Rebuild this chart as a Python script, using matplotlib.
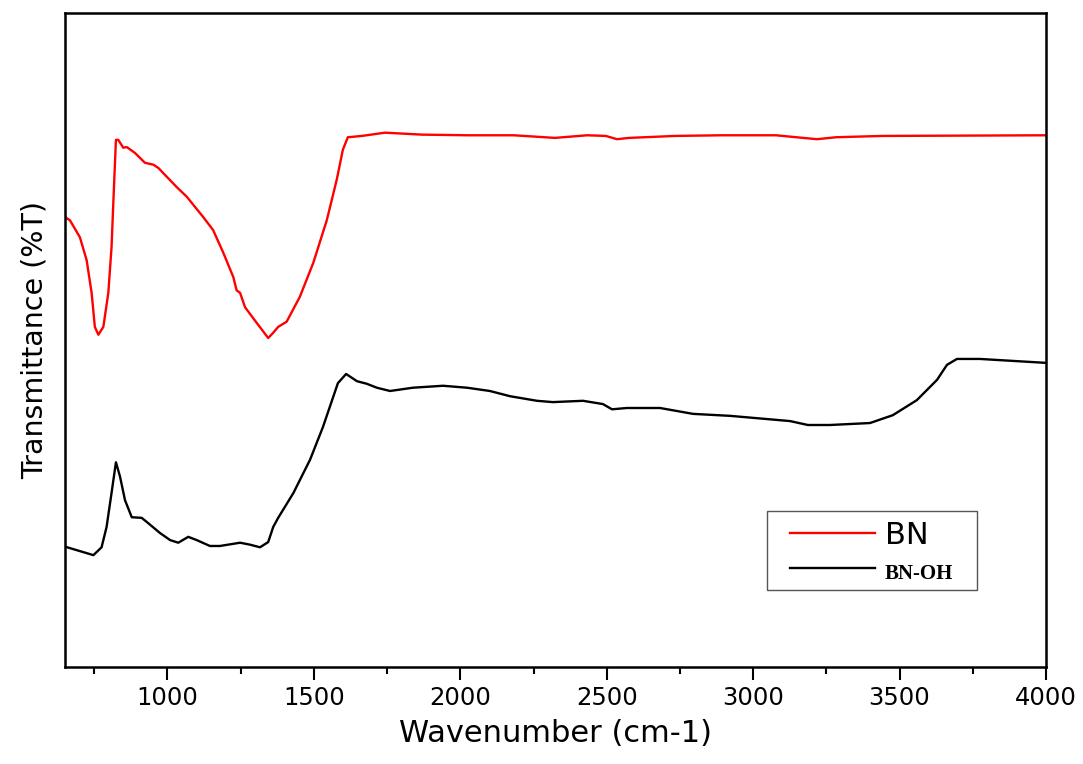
import matplotlib
matplotlib.use("Agg")
import matplotlib.pyplot as plt
from matplotlib.patches import Rectangle

# BN spectrum (wavenumber cm-1, transmittance arbitrary %)
bn_wn = [650, 667, 701, 724, 741, 752, 764, 781, 798, 809, 815, 824, 832, 849, 861,
         889, 923, 952, 969, 1031, 1066, 1122, 1156, 1191, 1225, 1236, 1248, 1265,
         1305, 1344, 1361, 1378, 1407, 1452, 1498, 1544, 1578, 1599, 1616, 1664,
         1743, 1869, 2026, 2183, 2323, 2433, 2497, 2535, 2576, 2733, 2890, 3078,
         3218, 3283, 3440, 4000]
bn_t = [68.8, 68.3, 65.7, 62.2, 57.2, 52.0, 50.8, 52.0, 57.2, 64.2, 70.9, 80.6, 80.6,
        79.4, 79.5, 78.6, 77.1, 76.8, 76.3, 73.4, 71.9, 68.8, 66.8, 63.3, 59.6, 57.6,
        57.2, 55.0, 52.6, 50.3, 51.1, 52.0, 52.8, 56.6, 61.8, 68.3, 74.5, 79.1, 81.0,
        81.2, 81.7, 81.4, 81.3, 81.3, 80.9, 81.3, 81.2, 80.7, 80.9, 81.2, 81.3, 81.3,
        80.7, 81.0, 81.2, 81.3]

# BN-OH spectrum
bnoh_wn = [650, 747, 775, 792, 809, 824, 838, 855, 878, 912, 934, 974, 1009, 1037,
           1071, 1100, 1145, 1179, 1248, 1282, 1316, 1344, 1361, 1378, 1430, 1487,
           1531, 1582, 1610, 1647, 1681, 1715, 1760, 1838, 1941, 2023, 2101, 2170,
           2262, 2316, 2419, 2487, 2518, 2569, 2682, 2795, 2921, 3126, 3187, 3262,
           3399, 3477, 3559, 3628, 3662, 3696, 3774, 4000]
bnoh_t = [18.4, 17.1, 18.3, 21.4, 26.6, 31.3, 29.1, 25.5, 22.9, 22.8, 22.0, 20.5,
          19.4, 19.0, 19.9, 19.4, 18.5, 18.5, 19.0, 18.7, 18.3, 19.1, 21.4, 22.8,
          26.6, 31.7, 36.7, 43.4, 44.8, 43.7, 43.3, 42.7, 42.2, 42.7, 43.0, 42.7,
          42.2, 41.4, 40.7, 40.5, 40.7, 40.2, 39.4, 39.6, 39.6, 38.7, 38.4, 37.6,
          37.0, 37.0, 37.3, 38.5, 40.8, 43.9, 46.2, 47.1, 47.1, 46.5]

labels = ["BN", "BN-OH"]
x_ticks = [1000, 1500, 2000, 2500, 3000, 3500, 4000]

fig = plt.figure(figsize=(10.83, 7.64), dpi=100)
ax = fig.add_axes([0.060, 0.127, 0.9058, 0.856])

l1, = ax.plot(bn_wn, bn_t, color="#ff0000", lw=1.7, label=labels[0])
l2, = ax.plot(bnoh_wn, bnoh_t, color="black", lw=1.7, label=labels[1])

ax.set_xlim(650, 4000)
ax.set_ylim(0, 100)
ax.set_xticks(x_ticks)
ax.set_xticks([750, 1250, 1750, 2250, 2750, 3250, 3750], minor=True)
ax.set_xticklabels([str(t) for t in x_ticks], fontfamily="DejaVu Sans", fontsize=17.5)
ax.set_yticks([])
ax.tick_params(axis="x", which="major", direction="out", length=9, width=1.5, pad=5)
ax.tick_params(axis="x", which="minor", direction="out", length=5, width=1.5)
for s in ax.spines.values():
    s.set_linewidth(1.8)

ax.set_xlabel("Wavenumber (cm-1)", fontfamily="DejaVu Sans", fontsize=22, labelpad=6)
ax.set_ylabel("Transmittance (%T)", fontfamily="DejaVu Sans", fontsize=20.5, labelpad=12)

# legend frame
ax.add_patch(Rectangle((0.7156, 0.1177), 0.2141, 0.1208, transform=ax.transAxes,
                       facecolor="white", edgecolor="#555555", lw=1.0, zorder=4))
leg = ax.legend(handles=[l1, l2], loc="upper left", bbox_to_anchor=(0.739, 0.2236),
                frameon=False, handlelength=2.78, handletextpad=0.33, borderpad=0,
                borderaxespad=0, labelspacing=0.25,
                prop={"family": "DejaVu Sans", "size": 22})
leg.set_zorder(5)
t2 = leg.get_texts()[1]
t2.set_fontfamily("Liberation Serif")
t2.set_fontweight("bold")
t2.set_fontsize(15)

fig.savefig("out.png", dpi=100)
